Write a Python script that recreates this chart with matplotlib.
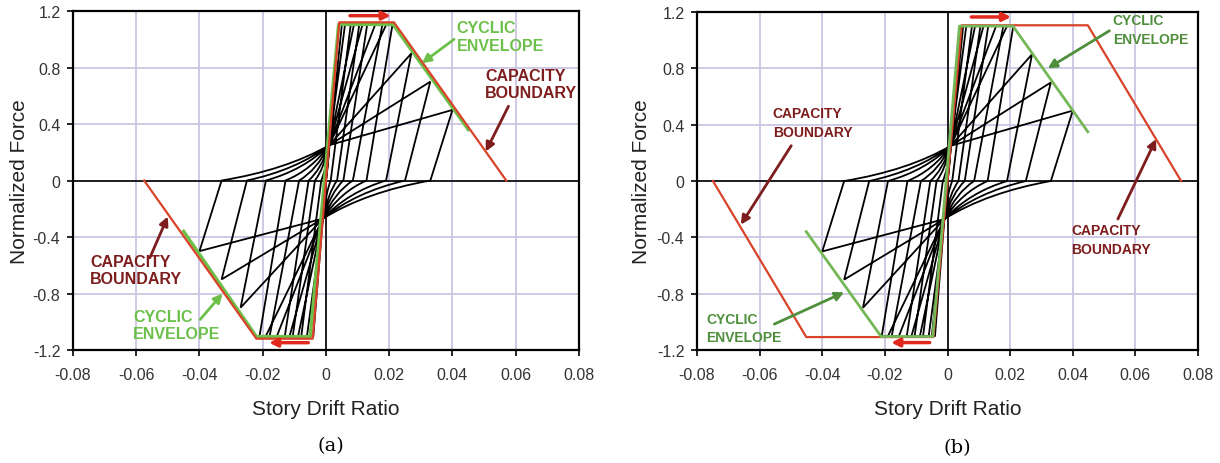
import matplotlib.pyplot as plt
from matplotlib.path import Path
from matplotlib.patches import PathPatch

# hysteresis cycles (same loading history in both panels)
amp = [0.005, 0.0078, 0.0105, 0.013, 0.0178, 0.021, 0.027, 0.033, 0.040]      # peak drift
peak = [1.1, 1.1, 1.1, 1.1, 1.1, 1.1, 0.9, 0.7, 0.5]                          # peak force
reach = [0.004, 0.006, 0.0088, 0.0115, 0.0155, 0.019, 0.027, 0.033, 0.040]   # drift where reload hits peak force
zero_x = [0.0, 0.0015, 0.0035, 0.0055, 0.0085, 0.0128, 0.019, 0.025, 0.033]  # drift at zero force after unloading
pinch_pos = (0.001, 0.25)
pinch_neg = (-0.001, -0.27)

# capacity boundary / cyclic envelope, panel (a)
cap_a_x = [-0.0575, -0.022, -0.0042, 0.0042, 0.0215, 0.057]
cap_a_y = [0.0, -1.12, -1.12, 1.12, 1.12, 0.0]
env_a_x = [-0.045, -0.022, -0.005, 0.004, 0.0212, 0.045]
env_a_y = [-0.36, -1.105, -1.105, 1.105, 1.105, 0.36]

# panel (b)
cap_b_x = [-0.0749, -0.0451, -0.0045, 0.0045, 0.0448, 0.0746]
cap_b_y = [0.0, -1.108, -1.108, 1.106, 1.106, 0.0]
env_b_x = [-0.0451, -0.0212, -0.0047, 0.0038, 0.0209, 0.0448]
env_b_y = [-0.36, -1.104, -1.104, 1.10, 1.10, 0.35]

xticks = [-0.08, -0.06, -0.04, -0.02, 0, 0.02, 0.04, 0.06, 0.08]
xticklabels = ['-0.08', '-0.06', '-0.04', '-0.02', '0', '0.02', '0.04', '0.06', '0.08']
yticks = [-1.2, -0.8, -0.4, 0, 0.4, 0.8, 1.2]
yticklabels = ['-1.2', '-0.8', '-0.4', '0', '0.4', '0.8', '1.2']

RED = '#d8432a'
ARROW_RED = '#e0281c'
DARK_RED = '#7d1d1d'
GRID = '#cdc5e3'

plt.rcParams['font.family'] = ['Liberation Sans', 'DejaVu Sans']


def reload_curve(x0, end):
    # quadratic bezier from the zero-force point into the pinch point
    x1, y1 = end
    ctrl = (x0 + 0.6 * (x1 - x0), 0.3 * y1)
    return [(x0, 0.0), ctrl, (x1, y1)]


def loops_path():
    verts, codes = [], []
    for A, F, R, Z in zip(amp, peak, reach, zero_x):
        verts += [(A, F), (Z, 0.0)]
        codes += [Path.MOVETO, Path.LINETO]
        c = reload_curve(Z, pinch_neg)
        verts += c[1:]
        codes += [Path.CURVE3, Path.CURVE3]
        verts += [(-R, -F), (-A, -F), (-Z, 0.0)]
        codes += [Path.LINETO] * 3
        c = reload_curve(-Z, pinch_pos)
        verts += c[1:]
        codes += [Path.CURVE3, Path.CURVE3]
        verts += [(R, F), (A, F)]
        codes += [Path.LINETO] * 2
    return Path(verts, codes)


def setup(ax):
    ax.set_xlim(-0.08, 0.08)
    ax.set_ylim(-1.2, 1.2)
    ax.set_xticks(xticks)
    ax.set_xticklabels(xticklabels)
    ax.set_yticks(yticks)
    ax.set_yticklabels(yticklabels)
    ax.grid(True, color=GRID, lw=1.3)
    ax.set_axisbelow(True)
    for s in ax.spines.values():
        s.set_linewidth(1.6)
        s.set_color('black')
    ax.tick_params(axis='both', length=4, width=1.2, labelsize=11.5, labelcolor='#333333')
    ax.tick_params(axis='x', pad=8)
    ax.tick_params(axis='y', pad=5)
    ax.axhline(0, color='black', lw=1.2, zorder=1)
    ax.axvline(0, color='black', lw=1.2, zorder=1)
    ax.set_xlabel('Story Drift Ratio', fontsize=15, color='#222222', va='top')
    ax.set_ylabel('Normalized Force', fontsize=15, color='#222222')
    ax.xaxis.set_label_coords(0.5, -0.145)
    ax.add_patch(PathPatch(loops_path(), fill=False, ec='black', lw=1.3, zorder=2))


def note(ax, text, xy, xytext, color, size, ls=1.2):
    ax.text(xytext[0], xytext[1], text, color=color, fontsize=size, fontweight='bold',
            ha='left', va='top', linespacing=ls, zorder=5)


def arrow(ax, tail, tip, color, lw=2.0, ms=13):
    ax.annotate('', xy=tip, xytext=tail,
                arrowprops=dict(arrowstyle='-|>', color=color, lw=lw, mutation_scale=ms,
                                shrinkA=0, shrinkB=0), zorder=6)


fig = plt.figure(figsize=(12.2, 4.64), dpi=100)

# ---- panel (a)
ax = fig.add_axes([0.0598, 0.2435, 0.4148, 0.7306])
setup(ax)
ax.yaxis.set_label_coords(-0.087, 0.5)
G_A = '#6cc04a'
ax.plot(env_a_x, env_a_y, color=G_A, lw=2.4, zorder=3)
ax.plot(cap_a_x, cap_a_y, color=RED, lw=1.6, zorder=4)
arrow(ax, (0.0076, 1.167), (0.0205, 1.167), ARROW_RED, lw=2.5, ms=12)
arrow(ax, (-0.0056, -1.148), (-0.018, -1.148), ARROW_RED, lw=2.5, ms=12)
note(ax, 'CYCLIC\nENVELOPE', None, (0.0413, 1.135), G_A, 11.5)
arrow(ax, (0.0405, 1.0), (0.0303, 0.83), G_A)
note(ax, 'CAPACITY\nBOUNDARY', None, (0.0503, 0.80), DARK_RED, 11.5)
arrow(ax, (0.0577, 0.526), (0.0505, 0.205), DARK_RED)
note(ax, 'CAPACITY\nBOUNDARY', None, (-0.0746, -0.52), DARK_RED, 11.5)
arrow(ax, (-0.0557, -0.547), (-0.0500, -0.255), DARK_RED)
note(ax, 'CYCLIC\nENVELOPE', None, (-0.061, -0.91), G_A, 11.5)
arrow(ax, (-0.0398, -0.984), (-0.0327, -0.80), G_A)

# ---- panel (b)
ax = fig.add_axes([0.5713, 0.2435, 0.4107, 0.7284])
setup(ax)
ax.yaxis.set_label_coords(-0.092, 0.5)
G_B_LINE = '#74b857'
G_B = '#4f8f3c'
ax.plot(cap_b_x, cap_b_y, color=RED, lw=1.6, zorder=3)
ax.plot(env_b_x, env_b_y, color=G_B_LINE, lw=2.0, zorder=4)
arrow(ax, (0.0076, 1.165), (0.0203, 1.165), ARROW_RED, lw=2.5, ms=12)
arrow(ax, (-0.0057, -1.147), (-0.018, -1.147), ARROW_RED, lw=2.5, ms=12)
note(ax, 'CAPACITY\nBOUNDARY', None, (-0.0558, 0.53), DARK_RED, 10, ls=1.4)
arrow(ax, (-0.0499, 0.251), (-0.066, -0.31), DARK_RED)
note(ax, 'CYCLIC\nENVELOPE', None, (0.0528, 1.19), G_B, 10, ls=1.4)
arrow(ax, (0.0517, 1.067), (0.032, 0.80), G_B)
note(ax, 'CAPACITY\nBOUNDARY', None, (0.0395, -0.30), DARK_RED, 10, ls=1.4)
arrow(ax, (0.0544, -0.27), (0.0666, 0.298), DARK_RED)
note(ax, 'CYCLIC\nENVELOPE', None, (-0.0771, -0.93), G_B, 10, ls=1.4)
arrow(ax, (-0.0553, -1.016), (-0.033, -0.79), G_B)

fig.text(331 / 1220, 1 - 446 / 464, '(a)', ha='center', va='center', fontsize=14,
         family='DejaVu Serif')
fig.text(957 / 1220, 1 - 448 / 464, '(b)', ha='center', va='center', fontsize=14,
         family='DejaVu Serif')

fig.savefig('out.png', dpi=100, facecolor='white')
